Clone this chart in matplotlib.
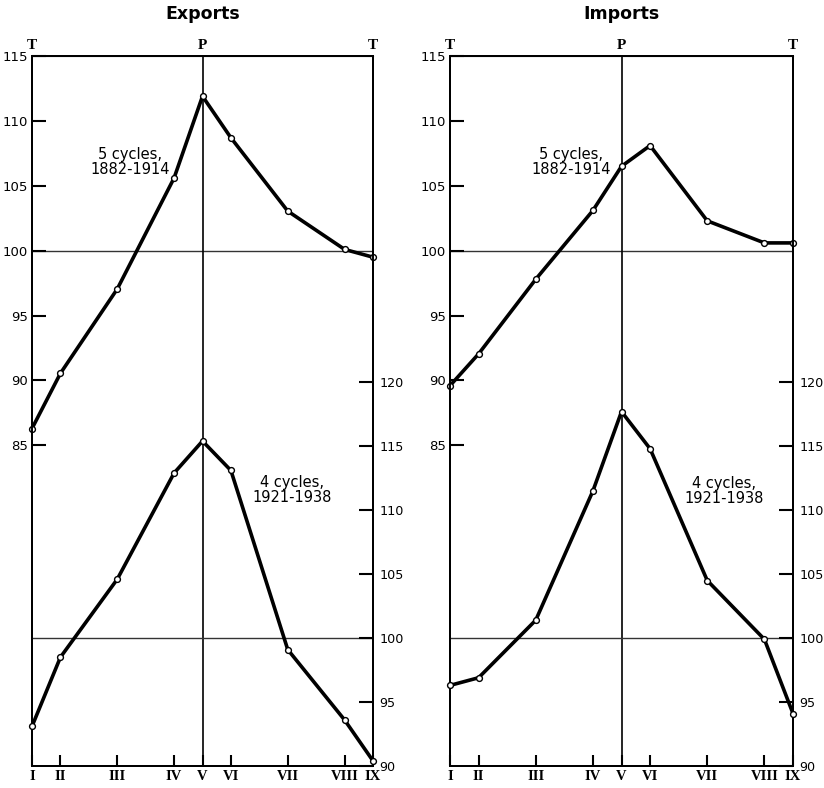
import matplotlib
matplotlib.use('Agg')
import matplotlib.pyplot as plt
from matplotlib.ticker import FixedLocator

# ---------------- data ----------------
stages = ['I', 'II', 'III', 'IV', 'V', 'VI', 'VII', 'VIII', 'IX']
stage_pos = [0, 1/6, 1/2, 5/6, 1, 7/6, 3/2, 11/6, 2]
turn_labels = ['T', 'P', 'T']
turn_pos = [0, 1, 2]

exports_1882_1914 = [86.3, 90.55, 97.05, 105.6, 111.9, 108.7, 103.05, 100.1, 99.5]
exports_1921_1938 = [93.1, 98.5, 104.6, 112.9, 115.4, 113.1, 99.1, 93.6, 90.4]
imports_1882_1914 = [89.6, 92.05, 97.8, 103.1, 106.5, 108.1, 102.3, 100.6, 100.6]
imports_1921_1938 = [96.3, 96.9, 101.4, 111.5, 117.7, 114.8, 104.5, 99.9, 94.1]

left_ticks = [85, 90, 95, 100, 105, 110, 115]
right_ticks = [90, 95, 100, 105, 110, 115, 120]

label_top = '5 cycles,\n1882-1914'
label_bot = '4 cycles,\n1921-1938'

W, H = 824, 788
fig = plt.figure(figsize=(W / 100, H / 100), dpi=100)


def panel(x0, x1, title, top_vals, bot_vals, top_lab_xy, bot_lab_xy):
    y_top, y_bot = 56, 766
    ax = fig.add_axes([x0 / W, 1 - y_bot / H, (x1 - x0) / W, (y_bot - y_top) / H])
    ax.set_xlim(0, 2)
    ax.set_ylim(60.3, 115)
    for s in ax.spines.values():
        s.set_linewidth(1.4)
        s.set_color('black')

    # reference lines
    ax.axhline(100, color='#333333', lw=1.0, zorder=1)
    ax.axvline(1, color='black', lw=1.2, zorder=1)

    ax.xaxis.set_major_locator(FixedLocator(stage_pos))
    ax.set_xticklabels(stages, family='Liberation Serif', fontsize=10.5, fontweight='bold')
    ax.tick_params(axis='x', direction='in', length=8, width=1.5, pad=3)
    ax.yaxis.set_major_locator(FixedLocator(left_ticks))
    ax.set_yticklabels([str(t) for t in left_ticks], fontsize=9.5)
    ax.tick_params(axis='y', direction='in', length=10, width=1.5, pad=3)

    ax.plot(stage_pos, top_vals, color='black', lw=2.6, marker='o', ms=4.2,
            mfc='white', mec='black', mew=1.0, zorder=4, clip_on=False)
    ax.text(top_lab_xy[0], top_lab_xy[1], label_top, ha='center', va='center',
            fontsize=10.5, linespacing=1.0, zorder=5)

    # top T / P / T markers
    sec = ax.secondary_xaxis('top')
    sec.xaxis.set_major_locator(FixedLocator(turn_pos))
    sec.set_xticklabels(turn_labels, family='Liberation Serif', fontsize=11, fontweight='bold')
    sec.tick_params(length=0, pad=3)

    ax2 = ax.twinx()
    ax2.set_ylim(90, 145.5)
    ax2.yaxis.set_major_locator(FixedLocator(right_ticks))
    ax2.set_yticklabels([str(t) for t in right_ticks], fontsize=9.2)
    ax2.tick_params(axis='y', direction='in', length=10, width=1.5, pad=4.5)
    for s in ax2.spines.values():
        s.set_linewidth(1.4)
    ax2.axhline(100, color='#333333', lw=1.0, zorder=1)
    ax2.plot(stage_pos, bot_vals, color='black', lw=2.6, marker='o', ms=4.2,
             mfc='white', mec='black', mew=1.0, zorder=4, clip_on=False)
    ax2.text(bot_lab_xy[0], bot_lab_xy[1], label_bot, ha='center', va='center',
             fontsize=10.5, linespacing=1.0, zorder=5)

    fig.text((x0 + x1) / 2 / W, 1 - 14 / H, title, ha='center', va='center',
             fontsize=12.5, fontweight='bold')
    return ax, ax2


panel(32, 373, 'Exports', exports_1882_1914, exports_1921_1938,
      (0.575, 106.8), (1.525, 111.6))
panel(450, 793, 'Imports', imports_1882_1914, imports_1921_1938,
      (0.706, 106.8), (1.598, 111.5))

fig.savefig('out.png', dpi=100)
